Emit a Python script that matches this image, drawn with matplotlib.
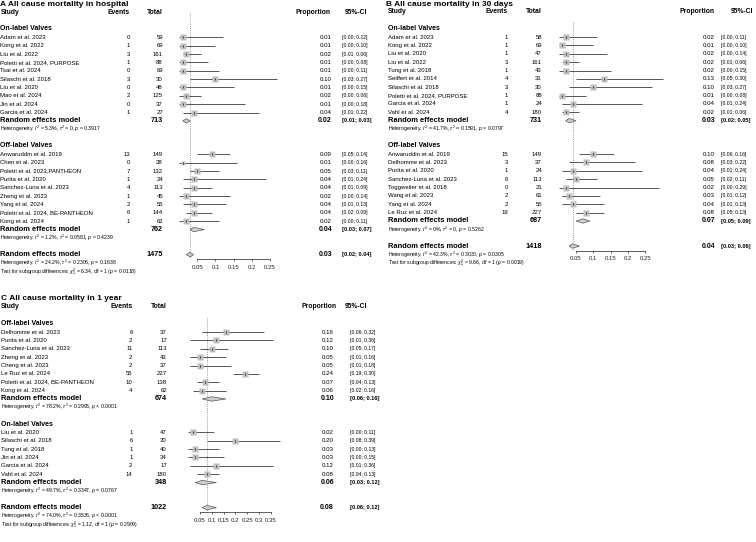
"""Three forest plots (mortality in hospital / 30 days / 1 year), on-label vs off-label valves."""
import matplotlib
matplotlib.use("Agg")
import matplotlib.pyplot as plt
import matplotlib.transforms as mtransforms
import numpy as np

plt.rcParams["font.family"] = ["Liberation Sans", "DejaVu Sans"]
plt.rcParams["mathtext.fontset"] = "custom"
plt.rcParams["mathtext.rm"] = "Liberation Sans"
plt.rcParams["mathtext.it"] = "Liberation Sans:italic"
plt.rcParams["mathtext.bf"] = "Liberation Sans:bold"

W, H = 756, 542

# ---- A: in hospital ----
a_on_study = ["Adam et al. 2023", "Kong et al. 2022", "Liu et al. 2022", "Poletti et al. 2024, PURPOSE",
              "Tsai et al. 2024", "Silaschi et al. 2018", "Liu et al. 2020", "Mao et al. 2024",
              "Jin et al. 2024", "Garcia et al. 2024"]
a_on_events = [0, 1, 3, 1, 0, 3, 0, 2, 0, 1]
a_on_total = [59, 69, 161, 88, 69, 30, 48, 125, 37, 27]
a_on_prop = [0.01, 0.01, 0.02, 0.01, 0.01, 0.10, 0.01, 0.02, 0.01, 0.04]
a_on_lo = [0.00, 0.00, 0.01, 0.00, 0.00, 0.03, 0.00, 0.00, 0.00, 0.01]
a_on_hi = [0.12, 0.10, 0.06, 0.08, 0.11, 0.27, 0.15, 0.06, 0.18, 0.22]
a_on_re = (713, 0.02, 0.01, 0.03)
a_on_het = ("5.3%", "0", "= 0.3917")

a_off_study = ["Anwaruddin et al. 2019", "Chen et al. 2023", "Poletti et al. 2023,PANTHEON", "Purita et al. 2020",
               "Sanchez-Luna et al. 2023", "Zheng et al. 2023", "Yang et al. 2024",
               "Poletti et al. 2024, BE-PANTHEON", "Kong et al. 2024"]
a_off_events = [13, 0, 7, 1, 4, 1, 2, 6, 1]
a_off_total = [149, 38, 132, 24, 113, 45, 55, 144, 62]
a_off_prop = [0.09, 0.01, 0.05, 0.04, 0.04, 0.02, 0.04, 0.04, 0.02]
a_off_lo = [0.05, 0.00, 0.03, 0.01, 0.01, 0.00, 0.01, 0.02, 0.00]
a_off_hi = [0.14, 0.16, 0.11, 0.24, 0.09, 0.14, 0.13, 0.09, 0.11]
a_off_re = (762, 0.04, 0.03, 0.07)
a_off_het = ("1.2%", "0.0581", "= 0.4239")

a_all_re = (1475, 0.03, 0.02, 0.04)
a_all_het = ("24.2%", "0.2306", "= 0.1638")
a_test = ("6.34", "0.0118")
a_tau2 = 0.2306
a_ticks = [0.05, 0.1, 0.15, 0.2, 0.25]

# ---- B: 30 days ----
b_on_study = ["Adam et al. 2023", "Kong et al. 2022", "Liu et al. 2020", "Liu et al. 2022", "Tung et al. 2018",
              "Seiffert et al. 2014", "Silaschi et al. 2018", "Poletti et al. 2024, PURPOSE",
              "Garcia et al. 2024", "Vahl et al. 2024"]
b_on_events = [1, 1, 1, 3, 1, 4, 3, 1, 1, 4]
b_on_total = [58, 69, 47, 161, 43, 31, 30, 88, 24, 180]
b_on_prop = [0.02, 0.01, 0.02, 0.02, 0.02, 0.13, 0.10, 0.01, 0.04, 0.02]
b_on_lo = [0.00, 0.00, 0.00, 0.01, 0.00, 0.05, 0.03, 0.00, 0.01, 0.01]
b_on_hi = [0.11, 0.10, 0.14, 0.06, 0.15, 0.30, 0.27, 0.08, 0.24, 0.06]
b_on_re = (731, 0.03, 0.02, 0.05)
b_on_het = ("41.7%", "0.1591", "= 0.0797")

b_off_study = ["Anwaruddin et al. 2019", "Delhomme et al. 2023", "Purita et al. 2020", "Sanchez-Luna et al. 2023",
               "Toggweiler et al. 2018", "Wang et al. 2023", "Yang et al. 2024", "Le Ruz et al. 2024"]
b_off_events = [15, 3, 1, 6, 0, 2, 2, 19]
b_off_total = [149, 37, 24, 113, 21, 61, 55, 227]
b_off_prop = [0.10, 0.08, 0.04, 0.05, 0.02, 0.03, 0.04, 0.08]
b_off_lo = [0.06, 0.03, 0.01, 0.02, 0.00, 0.01, 0.01, 0.05]
b_off_hi = [0.16, 0.22, 0.24, 0.11, 0.29, 0.12, 0.13, 0.13]
b_off_re = (687, 0.07, 0.05, 0.09)
b_off_het = ("0%", "0", "= 0.5262")

b_all_re = (1418, 0.04, 0.03, 0.06)
b_all_het = ("42.3%", "0.3030", "= 0.0305")
b_test = ("9.66", "0.0019")
b_tau2 = 0.3030
b_ticks = [0.05, 0.1, 0.15, 0.2, 0.25]

# ---- C: 1 year ----
c_off_study = ["Delhomme et al. 2023", "Purita et al. 2020", "Sanchez-Luna et al. 2023", "Zheng et al. 2023",
               "Cheng et al. 2023", "Le Ruz et al. 2024", "Poletti et al. 2024, BE-PANTHEON", "Kong et al. 2024"]
c_off_events = [6, 2, 11, 2, 2, 55, 10, 4]
c_off_total = [37, 17, 113, 43, 37, 227, 138, 62]
c_off_prop = [0.16, 0.12, 0.10, 0.05, 0.05, 0.24, 0.07, 0.06]
c_off_lo = [0.06, 0.01, 0.05, 0.01, 0.01, 0.19, 0.04, 0.02]
c_off_hi = [0.32, 0.36, 0.17, 0.16, 0.18, 0.30, 0.13, 0.16]
c_off_re = (674, 0.10, 0.06, 0.16)
c_off_het = ("78.2%", "0.2995", "< 0.0001")

c_on_study = ["Liu et al. 2020", "Silaschi et al. 2018", "Tung et al. 2018", "Jin et al. 2024",
              "Garcia et al. 2024", "Vahl et al. 2024"]
c_on_events = [1, 6, 1, 1, 2, 14]
c_on_total = [47, 30, 40, 34, 17, 180]
c_on_prop = [0.02, 0.20, 0.03, 0.03, 0.12, 0.08]
c_on_lo = [0.00, 0.08, 0.00, 0.00, 0.01, 0.04]
c_on_hi = [0.11, 0.39, 0.13, 0.15, 0.36, 0.13]
c_on_re = (348, 0.06, 0.03, 0.12)
c_on_het = ("49.7%", "0.3347", "= 0.0767")

c_all_re = (1022, 0.08, 0.06, 0.12)
c_all_het = ("74.0%", "0.3536", "< 0.0001")
c_test = ("1.12", "0.2909")
c_tau2 = 0.3536
c_ticks = [0.05, 0.1, 0.15, 0.2, 0.25, 0.3, 0.35]

SQ_COL = "#bebebe"
LINE_COL = "#3a3a3a"
FS = 4.3          # study / events / total
FS_PROP = 4.4     # proportion column
FS_CI = 3.6       # CI column
FS_HET = 3.7


def het_text(h):
    i2, tau, p = h
    return rf"Heterogeneity: $I^2$ = {i2}, $\tau^2$ = {tau}, $p$ {p}"


def draw_panel(fig, title, groups, overall, het_all, test, tau2, ticks, lay):
    y0, dy = lay["y0"], lay["dy"]
    n_rows = 2 + sum(len(g["study"]) + 4 for g in groups) + 3
    top, bottom = -2, n_rows + 1
    ax = fig.add_axes([lay["x0"] / W, 1 - (y0 + bottom * dy) / H,
                       lay["scale"] * lay["xmax"] / W, (bottom - top) * dy / H])
    ax.set_xlim(0, lay["xmax"])
    ax.set_ylim(bottom, top)
    ax.patch.set_visible(False)
    for s in ("top", "left", "right"):
        ax.spines[s].set_visible(False)
    ax.set_yticks([])
    axis_row = (lay["axis_px"] - y0) / dy
    ax.spines["bottom"].set_position(("data", axis_row))
    ax.spines["bottom"].set_bounds(ticks[0], ticks[-1])
    ax.spines["bottom"].set_linewidth(0.5)
    ax.spines["bottom"].set_color("#222222")
    ax.set_xticks(ticks)
    ax.set_xticklabels([f"{t:g}" for t in ticks])
    ax.tick_params(axis="x", direction="out", length=1.6, width=0.5, pad=2.3,
                   labelsize=4.3, colors="#222222")

    tr = mtransforms.blended_transform_factory(fig.transFigure, ax.transData)

    def put(xpx, row, s, ha="left", **kw):
        ax.text(xpx / W, row, s, transform=tr, ha=ha, va="center", **kw)

    def diamond(row, est, lo, hi):
        h = 2.2 / dy
        ax.fill([lo, est, hi, est], [row, row - h, row, row + h],
                fc="#d0d0d0", ec="#555555", lw=0.5, zorder=4)

    def re_row(row, re):
        tot, est, lo, hi = re
        put(lay["study_x"], row, "Random effects model", fontsize=5.4, fontweight="bold")
        put(lay["total_x"], row, f"{tot}", ha="right", fontsize=5.2, fontweight="bold")
        put(lay["prop_x"], row, f"{est:.2f}", ha="right", fontsize=5.0, fontweight="bold")
        put(lay["ci_x"], row, f"[{lo:.2f}; {hi:.2f}]", fontsize=4.1, fontweight="bold")
        diamond(row, est, lo, hi)

    # title and header
    fig.text(lay["title_x"] / W, 1 - lay["title_y"] / H, title, ha="left", va="center",
             fontsize=6.0, fontweight="bold")
    hr = lay["header_row"]
    put(lay["study_x"], hr, "Study", fontsize=4.9, fontweight="bold")
    put(lay["events_x"], hr, "Events", ha="right", fontsize=4.9, fontweight="bold")
    put(lay["total_x"], hr, "Total", ha="right", fontsize=4.9, fontweight="bold")
    put(lay["prop_hdr_x"], hr, "Proportion", ha="right", fontsize=4.9, fontweight="bold")
    put(lay["ci_hdr_x"], hr, "95%-CI", fontsize=4.9, fontweight="bold")

    row = 2
    for g in groups:
        put(lay["study_x"], row, g["name"], fontsize=5.0, fontweight="bold")
        ev, nt = np.array(g["events"]), np.array(g["total"])
        w = 1 / (1 / (ev + 0.5) + 1 / (nt - ev + 0.5))
        w = 1 / (1 / w + tau2)
        side = 4.0 + 2.6 * np.sqrt(w / w.max())
        for k, name in enumerate(g["study"]):
            r = row + 1 + k
            put(lay["study_x"], r, name, fontsize=FS)
            put(lay["events_x"], r, f"{g['events'][k]}", ha="right", fontsize=FS)
            put(lay["total_x"], r, f"{g['total'][k]}", ha="right", fontsize=FS)
            put(lay["prop_x"], r, f"{g['prop'][k]:.2f}", ha="right", fontsize=FS_PROP)
            put(lay["ci_x"], r, f"[{g['lo'][k]:.2f}; {g['hi'][k]:.2f}]", fontsize=FS_CI)
            ax.plot([g["lo"][k], g["hi"][k]], [r, r], color=LINE_COL, lw=0.6,
                    solid_capstyle="butt", zorder=2)
            ax.plot(g["prop"][k], r, marker="s", ms=side[k] * 0.72, mfc=SQ_COL, mec="none", zorder=3)
            ax.plot(g["prop"][k], r, marker="|", ms=1.8, mew=0.6, color="#222222", zorder=4)
        row += len(g["study"]) + 1
        re_row(row, g["re"])
        put(lay["study_x"], row + 1, het_text(g["het"]), fontsize=FS_HET)
        row += 3

    re_row(row, overall)
    put(lay["study_x"], row + 1, het_text(het_all), fontsize=FS_HET)
    put(lay["study_x"], row + 2,
        rf"Test for subgroup differences: $\chi^2_1$ = {test[0]}, df = 1 ($p$ = {test[1]})",
        fontsize=FS_HET)

    ax.plot([overall[1], overall[1]], [lay["ref_top"], axis_row], color="#808080", lw=0.6,
            ls=(0, (1, 1.5)), zorder=1)


def group(name, study, events, total, prop, lo, hi, re, het):
    return dict(name=name, study=study, events=events, total=total, prop=prop,
                lo=lo, hi=hi, re=re, het=het)


fig = plt.figure(figsize=(W / 100, H / 100), dpi=100)

draw_panel(fig, "A All cause mortality in hospital",
           [group("On-label Valves", a_on_study, a_on_events, a_on_total, a_on_prop, a_on_lo, a_on_hi,
                  a_on_re, a_on_het),
            group("Off-label Valves", a_off_study, a_off_events, a_off_total, a_off_prop, a_off_lo,
                  a_off_hi, a_off_re, a_off_het)],
           a_all_re, a_all_het, a_test, a_tau2, a_ticks,
           dict(x0=179.1, scale=363.5, xmax=0.30, y0=12.2, dy=8.36, header_row=0, ref_top=0.1,
                title_x=0, title_y=4.5, study_x=0.5, events_x=130, total_x=163,
                prop_x=332, ci_x=342, prop_hdr_x=331, ci_hdr_x=345, axis_px=259.3))

draw_panel(fig, "B All cause mortality in 30 days",
           [group("On-label Valves", b_on_study, b_on_events, b_on_total, b_on_prop, b_on_lo, b_on_hi,
                  b_on_re, b_on_het),
            group("Off-label Valves", b_off_study, b_off_events, b_off_total, b_off_prop, b_off_lo,
                  b_off_hi, b_off_re, b_off_het)],
           b_all_re, b_all_het, b_test, b_tau2, b_ticks,
           dict(x0=558.7, scale=346, xmax=0.31, y0=12.0, dy=8.36, header_row=0, ref_top=1.2,
                title_x=386, title_y=4.5, study_x=387.5, events_x=508, total_x=542,
                prop_x=715, ci_x=721, prop_hdr_x=715, ci_hdr_x=731, axis_px=250.7))

draw_panel(fig, "C All cause mortality in 1 year",
           [group("Off-label Valves", c_off_study, c_off_events, c_off_total, c_off_prop, c_off_lo,
                  c_off_hi, c_off_re, c_off_het),
            group("On-label Valves", c_on_study, c_on_events, c_on_total, c_on_prop, c_on_lo, c_on_hi,
                  c_on_re, c_on_het)],
           c_all_re, c_all_het, c_test, c_tau2, c_ticks,
           dict(x0=188, scale=237, xmax=0.42, y0=307.0, dy=8.36, header_row=0, ref_top=1.3,
                title_x=1, title_y=298.5, study_x=1, events_x=132.5, total_x=167,
                prop_x=334, ci_x=350, prop_hdr_x=336, ci_hdr_x=345, axis_px=512.5))

fig.savefig("out.png", dpi=100, facecolor="white")
